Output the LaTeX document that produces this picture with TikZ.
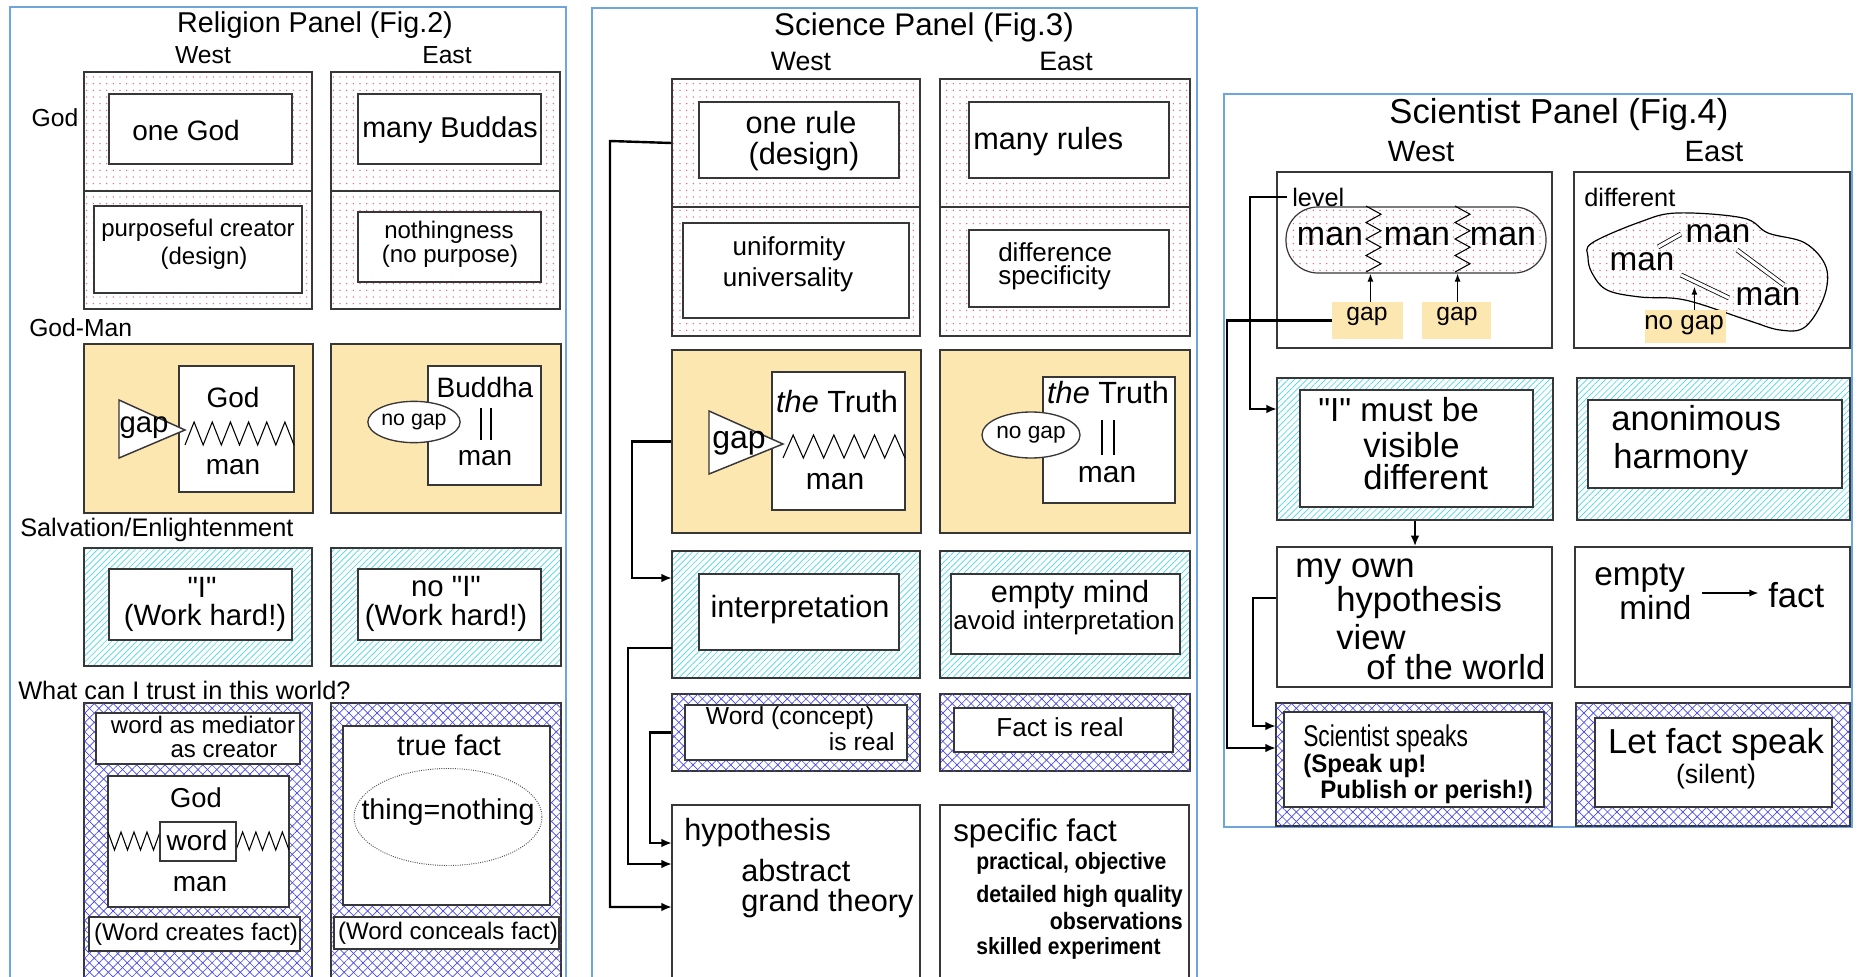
\documentclass[tikz,border=0pt]{standalone}
\usepackage{fontspec}
\usepackage{graphicx}
\setmainfont{Liberation Sans}[Ligatures=TeXOff]
\usetikzlibrary{patterns,patterns.meta,fit,arrows.meta,shapes.geometric}
\newcommand\fsz[1]{\fontsize{#1}{#1}\selectfont}
\newcommand\myzz[5]{\draw[zz] (#1,#4) \foreach \k in {1,...,#5}{ -- ({#1+(\k-0.5)*(#2-#1)/#5},#3) -- ({#1+\k*(#2-#1)/#5},#4)};}
\newcommand\myzzv[5]{\draw[zz] (#3,#1) \foreach \k in {1,...,#5}{ -- (#4,{#1+(\k-0.5)*(#2-#1)/#5}) -- (#3,{#1+\k*(#2-#1)/#5})};}
\newcommand\bnarrow[1]{\scalebox{0.9}[1]{\bfseries #1}}
\definecolor{panelblue}{RGB}{110,165,220}
\definecolor{boxline}{RGB}{55,55,55}
\definecolor{dotpink}{RGB}{240,80,130}
\definecolor{orangefill}{RGB}{253,231,176}
\definecolor{hatchcyan}{RGB}{70,215,235}
\definecolor{hatchblue}{RGB}{70,70,235}
\tikzset{
 panel/.style={draw=panelblue, line width=1.6pt, inner sep=0pt},
 ob/.style={draw=boxline, line width=1.1pt, inner sep=0pt},
 pinkdots/.style={ob, pattern={Dots[distance=5pt,radius=0.55pt]}, pattern color=dotpink},
 orangebox/.style={ob, fill=orangefill},
 cyanhatch/.style={ob, pattern={Lines[angle=45,distance=3.3pt,line width=0.5pt]}, pattern color=hatchcyan},
 bluehatch/.style={ob, pattern={Lines[angle=45,distance=5pt,line width=0.5pt]}, pattern color=hatchblue,
   postaction={pattern={Lines[angle=-45,distance=5pt,line width=0.5pt]}, pattern color=hatchblue}},
 ib/.style={draw=boxline, line width=1.1pt, fill=white, inner sep=0pt},
 t/.style={inner sep=0pt},
 conn/.style={line width=1.8pt},
 arr/.style={conn, -{Latex[length=8pt,width=6.5pt]}},
 thinarr/.style={line width=0.9pt, -{Latex[length=6pt,width=4.5pt]}},
 zz/.style={line width=0.8pt},
}
\begin{document}
\begin{tikzpicture}[x=0.75pt,y=-0.75pt]
\path[use as bounding box, fill=white] (0,0) rectangle (1858,977);
\clip (0,0) rectangle (1858,977);

%%%%%%%%%%%%%%%% RELIGION PANEL
\node[panel, fit={(10,7) (566,1000)}] (relP) {};
\node[t, font=\fsz{21.5}] (relT) at (315,25) {Religion Panel (Fig.2)};
\node[t, font=\fsz{18.5}] (relW) at (203,55) {West};
\node[t, font=\fsz{18.5}] (relE) at (447,55) {East};
\node[t, font=\fsz{18.5}] (lGod) at (55,118) {God};
% God row
\node[pinkdots, fit={(84,72) (312,191)}] (rg1) {};
\node[pinkdots, fit={(84,191) (312,309)}] (rg2) {};
\node[pinkdots, fit={(331,72) (560,191)}] (rg3) {};
\node[pinkdots, fit={(331,191) (560,309)}] (rg4) {};
\node[ib, fit={(109,94) (292,164)}] (oneGb) {};
\node[t, font=\fsz{21}] (oneG) at (186,130) {one God};
\node[ib, fit={(358,94) (541,164)}] (manyBb) {};
\node[t, font=\fsz{21.5}] (manyB) at (450,130) {many Buddas};
\node[ib, fit={(94,206) (302,293)}] (purpb) {};
\node[t, font=\fsz{18}] (purp1) at (198,230) {purposeful creator};
\node[t, font=\fsz{18}] (purp2) at (204,258) {(design)};
\node[ib, fit={(358,212) (541,282)}] (nothb) {};
\node[t, font=\fsz{18}] (noth1) at (449,232) {nothingness};
\node[t, font=\fsz{18}] (noth2) at (450,256) {(no purpose)};
% God-Man row
\node[t, font=\fsz{18.5}, anchor=west] (lGM) at (29,328) {God-Man};
\node[orangebox, fit={(84,344) (313,513)}] (rgm1) {};
\node[orangebox, fit={(331,344) (561,513)}] (rgm2) {};
\node[ib, fit={(179,366) (294,492)}] (rgmin1) {};
\node[t, font=\fsz{21}] (rgGod) at (233,397) {God};
\node[t, font=\fsz{21}] (rgMan) at (233,467) {man};
\myzz{185}{294}{422}{445}{6}
\draw[ib] (119,400) -- (119,458) -- (185,430) -- cycle;
\node[t, font=\fsz{22}] (rgGap) at (144,428) {gap};
\node[ib, fit={(428,366) (541,485)}] (rgmin2) {};
\node[t, font=\fsz{21}] (rgBud) at (485,387) {Buddha};
\draw[line width=0.8pt] (481,408) -- (481,440) (491,408) -- (491,440);
\node[t, font=\fsz{21}] (rgMan2) at (485,458) {man};
\node[ellipse, draw=boxline, line width=1pt, fill=white, inner sep=0pt, minimum width=58pt, minimum height=31pt, font=\fsz{16}] (rgNoGap) at (414,422) {no gap};
% Salvation row
\node[t, font=\fsz{19}, anchor=west] (lSal) at (20,530) {Salvation/Enlightenment};
\node[cyanhatch, fit={(84,548) (312,666)}] (rs1) {};
\node[cyanhatch, fit={(331,548) (561,666)}] (rs2) {};
\node[ib, fit={(109,569) (292,640)}] (rsin1) {};
\node[t, font=\fsz{22}] (rsI) at (202,587) {"I"};
\node[t, font=\fsz{22}] (rsW1) at (205,618) {(Work hard!)};
\node[ib, fit={(358,569) (541,640)}] (rsin2) {};
\node[t, font=\fsz{22}] (rsNoI) at (446,587) {no "I"};
\node[t, font=\fsz{22}] (rsW2) at (446,618) {(Work hard!)};
% Trust row
\node[t, font=\fsz{19}, anchor=west] (lTr) at (18,690) {What can I trust in this world?};
\node[bluehatch, fit={(84,703) (312,1000)}] (rt1) {};
\node[bluehatch, fit={(331,703) (561,1000)}] (rt2) {};
\node[ib, fit={(96,713) (300,764)}] (medb) {};
\node[t, font=\fsz{18}] (med1) at (203,725) {word as mediator};
\node[t, font=\fsz{18}] (med2) at (224,750) {as creator};
\node[ib, fit={(108,776) (289,907)}] (gwmb) {};
\node[t, font=\fsz{20.5}] (gwmG) at (196,798) {God};
\myzz{108}{160}{850}{832}{4}
\myzz{236}{289}{832}{850}{4}
\node[ib, fit={(160,822) (236,861)}] (wordb) {};
\node[t, font=\fsz{21}] (word) at (197,840) {word};
\node[t, font=\fsz{21}] (gwmM) at (200,884) {man};
\node[ib, fit={(89,917) (300,951)}] (wcfb) {};
\node[t, font=\fsz{18}] (wcf) at (196,934) {(Word creates fact)};
\node[ib, fit={(343,726) (550,905)}] (tfb) {};
\node[t, font=\fsz{21.5}] (tf) at (449,745) {true fact};
\draw[densely dotted, line width=0.7pt, black!70] (448,817) ellipse [x radius=94, y radius=48.5];
\node[t, font=\fsz{21.5}] (thing) at (448,812) {thing=nothing};
\node[ib, fit={(334,917) (559,949)}] (wcnb) {};
\node[t, font=\fsz{18}] (wcn) at (448,933) {(Word conceals fact)};

%%%%%%%%%%%%%%%% SCIENCE PANEL
\node[panel, fit={(592,8) (1197,1000)}] (sciP) {};
\node[t, font=\fsz{23.5}] (sciT) at (924,27) {Science Panel (Fig.3)};
\node[t, font=\fsz{20}] (sciW) at (801,61) {West};
\node[t, font=\fsz{20}] (sciE) at (1066,61) {East};
\node[pinkdots, fit={(672,79) (920,207)}] (st1) {};
\node[pinkdots, fit={(672,207) (920,336)}] (st2) {};
\node[pinkdots, fit={(940,79) (1190,207)}] (st3) {};
\node[pinkdots, fit={(940,207) (1190,336)}] (st4) {};
\node[ib, fit={(699,102) (899,178)}] (oneRb) {};
\node[t, font=\fsz{23}] (oneR1) at (801,123) {one rule};
\node[t, font=\fsz{23}] (oneR2) at (804,157) {(design)};
\node[ib, fit={(969,102) (1169,178)}] (manyRb) {};
\node[t, font=\fsz{23}, anchor=west] (manyR) at (973,142) {many rules};
\node[ib, fit={(683,223) (909,318)}] (unifb) {};
\node[t, font=\fsz{19.5}] (unif1) at (789,249) {uniformity};
\node[t, font=\fsz{19.5}] (unif2) at (788,280) {universality};
\node[ib, fit={(969,230) (1169,307)}] (diffb) {};
\node[t, font=\fsz{19.5}, anchor=west] (diff1) at (998,252) {difference};
\node[t, font=\fsz{19.5}, anchor=west] (diff2) at (998,278) {specificity};
% God-man
\node[orangebox, fit={(672,350) (921,533)}] (sg1) {};
\node[orangebox, fit={(940,350) (1190,533)}] (sg2) {};
\node[ib, fit={(772,372) (905,510)}] (sgin1) {};
\node[t, font=\fsz{23}] (sgT1) at (837,402) {{\itshape the} Truth};
\node[t, font=\fsz{22.5}] (sgM1) at (835,482) {man};
\myzz{783}{905}{435}{458}{6}
\draw[ib] (709,411) -- (709,474) -- (783,444) -- cycle;
\node[t, font=\fsz{24}] (sgGap) at (739,443) {gap};
\node[ib, fit={(1043,377) (1175,503)}] (sgin2) {};
\node[t, font=\fsz{23}] (sgT2) at (1108,393) {{\itshape the} Truth};
\draw[line width=0.8pt] (1102,420) -- (1102,455) (1114,420) -- (1114,455);
\node[t, font=\fsz{22.5}] (sgM2) at (1107,475) {man};
\node[ellipse, draw=boxline, line width=1pt, fill=white, inner sep=0pt, minimum width=63pt, minimum height=34.5pt, font=\fsz{17}] (sgNoGap) at (1031,435) {no gap};
% interpretation
\node[cyanhatch, fit={(672,551) (920,678)}] (sc1) {};
\node[cyanhatch, fit={(940,551) (1190,678)}] (sc2) {};
\node[ib, fit={(699,574) (899,650)}] (interpb) {};
\node[t, font=\fsz{23}] (interp) at (800,610) {interpretation};
\node[ib, fit={(951,574) (1180,654)}] (emptb) {};
\node[t, font=\fsz{23}] (empt1) at (1070,595) {empty mind};
\node[t, font=\fsz{19.5}] (empt2) at (1064,623) {avoid interpretation};
% word / fact
\node[bluehatch, fit={(672,694) (920,771)}] (sx1) {};
\node[bluehatch, fit={(940,694) (1190,771)}] (sx2) {};
\node[ib, fit={(685,705) (907,760)}] (wordcb) {};
\node[t, font=\fsz{18.5}] (wordc1) at (790,718) {Word (concept)};
\node[t, font=\fsz{18.5}, anchor=east] (wordc2) at (895,742) {is real};
\node[ib, fit={(954,708) (1173,752)}] (factrb) {};
\node[t, font=\fsz{19.5}] (factr) at (1060,727) {Fact is real};
% hypothesis / fact
\node[ib, fit={(672,805) (920,1000)}] (hyp) {};
\node[t, font=\fsz{23}, anchor=west] (hyp1) at (684,833) {hypothesis};
\node[t, font=\fsz{23}, anchor=west] (hyp2) at (741,871) {abstract};
\node[t, font=\fsz{23}, anchor=west] (hyp3) at (741,904) {grand theory};
\node[ib, fit={(940,805) (1189,1000)}] (spec) {};
\node[t, font=\fsz{23.5}, anchor=west] (spec1) at (953,833) {specific fact};
\node[t, font=\fsz{17.6}, anchor=west] (spec2) at (976,863) {\bnarrow{practical, objective}};
\node[t, font=\fsz{17.8}, anchor=west] (spec3) at (976,896) {\bnarrow{detailed high quality}};
\node[t, font=\fsz{17.8}, anchor=east] (spec4) at (1183,921) {\bnarrow{observations}};
\node[t, font=\fsz{17.6}, anchor=west] (spec5) at (976,948) {\bnarrow{skilled experiment}};
% connectors
\coordinate (c3s) at (672,648);
\coordinate (h1) at (672,843);
\coordinate (h2) at (672,864);
\coordinate (h3) at (672,907);
\coordinate (sc1a) at (672,578);
\draw[arr] (st1.west) -- (610,141) |- (h3);
\draw[arr] (sg1.west) -- (632,441.5) |- (sc1a);
\draw[arr] (c3s) -- (628,648) |- (h2);
\draw[arr] (sx1.west) -- (650,732.5) |- (h1);

%%%%%%%%%%%%%%%% SCIENTIST PANEL
\node[panel, fit={(1224,94) (1852,827)}] (stP) {};
\node[t, font=\fsz{26}] (stT) at (1559,115) {Scientist Panel (Fig.4)};
\node[t, font=\fsz{22}] (stW) at (1421,152) {West};
\node[t, font=\fsz{22}] (stE) at (1714,152) {East};
\node[ob, fit={(1277,172) (1552,348)}] (lvlB) {};
\node[ob, fit={(1574,172) (1850,348)}] (difB) {};
\node[t, font=\fsz{19}, anchor=west] (lvl) at (1292,197) {level};
\node[pinkdots, rounded corners=24pt, line width=0.9pt, fit={(1286,207) (1546,273)}] (stad) {};
\node[t, font=\fsz{25.5}] (m1) at (1330,237) {man};
\node[t, font=\fsz{25.5}] (m2) at (1417,237) {man};
\node[t, font=\fsz{25.5}] (m3) at (1503,237) {man};
\myzzv{206}{272}{1366}{1381}{4}
\myzzv{206}{272}{1455}{1470}{4}
\node[fill=orangefill, inner sep=0pt, fit={(1332,302) (1403,339)}] (g1) {};
\node[fill=orangefill, inner sep=0pt, fit={(1422,302) (1491,339)}] (g2) {};
\node[t, font=\fsz{18.5}] (g1t) at (1367,316) {gap};
\node[t, font=\fsz{18.5}] (g2t) at (1457,316) {gap};
\draw[thinarr] ([xshift=2.2pt]g1.north) -- ([xshift=2.2pt]g1.north |- stad.south);
\draw[thinarr] ([xshift=0.8pt]g2.north) -- ([xshift=0.8pt]g2.north |- stad.south);
\node[t, font=\fsz{19}, anchor=west] (dif) at (1584,197) {different};
\draw[line width=0.9pt, pattern={Dots[distance=5pt,radius=0.55pt]}, pattern color=dotpink]
  plot[smooth cycle, tension=0.6] coordinates {(1592,243) (1640,222) (1677,213) (1743,218) (1768,233) (1805,243) (1826,267) (1824,297) (1805,327) (1780,330) (1747,320) (1685,300) (1640,297) (1607,290) (1592,273) (1588,257)};
\draw[double, double distance=2.4pt, line width=0.6pt] (1658,247) -- (1681,234);
\draw[double, double distance=2.4pt, line width=0.6pt] (1737,250) -- (1784,285);
\draw[double, double distance=2.4pt, line width=0.6pt] (1681,275) -- (1729,298);
\node[t, font=\fsz{25}] (bm1) at (1718,234) {man};
\node[t, font=\fsz{25}] (bm2) at (1642,262) {man};
\node[t, font=\fsz{25}] (bm3) at (1768,297) {man};
\node[fill=orangefill, inner sep=0pt, fit={(1645,310) (1726,343)}] (ng) {};
\node[t, font=\fsz{19.5}] (ngt) at (1684,325) {no gap};
\draw[thinarr] ([xshift=6.7pt]ng.north) -- ++(0,-23);
% row 2
\node[cyanhatch, fit={(1277,378) (1553,520)}] (cyW) {};
\node[ib, fit={(1300,390) (1533,507)}] (cyWin) {};
\node[t, font=\fsz{25}, anchor=west] (iv1) at (1318,410) {"I" must be};
\node[t, font=\fsz{26}, anchor=west] (iv2) at (1363,445) {visible};
\node[t, font=\fsz{26}, anchor=west] (iv3) at (1363,477) {different};
\node[cyanhatch, fit={(1577,378) (1850,520)}] (cyE) {};
\node[ib, fit={(1588,400) (1842,488)}] (cyEin) {};
\node[t, font=\fsz{26}, anchor=west] (an1) at (1611,418) {anonimous};
\node[t, font=\fsz{26}, anchor=west] (an2) at (1613,460) {harmony};
% row 3
\node[ob, fit={(1277,547) (1552,687)}] (myB) {};
\node[t, font=\fsz{26}, anchor=west] (my1) at (1295,572) {my own};
\node[t, font=\fsz{26}, anchor=west] (my2) at (1336,603) {hypothesis};
\node[t, font=\fsz{26}, anchor=west] (my3) at (1336,637) {view};
\node[t, font=\fsz{26}, anchor=west] (my4) at (1366,667) {of the world};
\node[ob, fit={(1575,547) (1850,687)}] (efB) {};
\node[t, font=\fsz{25}, anchor=west] (em1) at (1594,578) {empty};
\node[t, font=\fsz{25}, anchor=west] (em2) at (1619,608) {mind};
\node[t, font=\fsz{26}, anchor=west] (fct) at (1768,595) {fact};
\draw[line width=1.5pt, -{Latex[length=7pt,width=5.5pt]}] (1702,593) -- ([xshift=-7pt]fct.west |- 0,593);
% row 4
\node[bluehatch, fit={(1276,703) (1552,826)}] (chW) {};
\node[ib, fit={(1284,712) (1544,807)}] (chWin) {};
\node[t, anchor=west] (sp1) at (1303,739) {\scalebox{0.76}[1]{\fsz{22.5}Scientist speaks}};
\node[t, anchor=west] (sp2) at (1303,766) {\scalebox{0.95}[1]{\fsz{19}\bfseries (Speak up!}};
\node[t, anchor=west] (sp3) at (1320,792) {\scalebox{0.95}[1]{\fsz{19}\bfseries Publish or perish!)}};
\node[bluehatch, fit={(1576,703) (1850,826)}] (chE) {};
\node[ib, fit={(1595,718) (1832,807)}] (chEin) {};
\node[t, font=\fsz{26}] (lf1) at (1716,745) {Let fact speak};
\node[t, font=\fsz{20}] (lf2) at (1716,777) {(silent)};
% scientist connectors
\coordinate (cyWa) at (1277,409);
\coordinate (chWa) at (1276,726);
\coordinate (chWb) at (1276,748);
\draw[arr] ([xshift=-4pt]lvl.west) -- (1250,197) |- (cyWa);
\draw[arr] (g1.west) -- (1227,320.5) |- (chWb);
\draw[arr] (myB.west |- 0,598) -- (1253,598) |- (chWa);
\draw[arr] (cyW.south) -- (myB.north -| cyW.south);
\end{tikzpicture}
\end{document}
